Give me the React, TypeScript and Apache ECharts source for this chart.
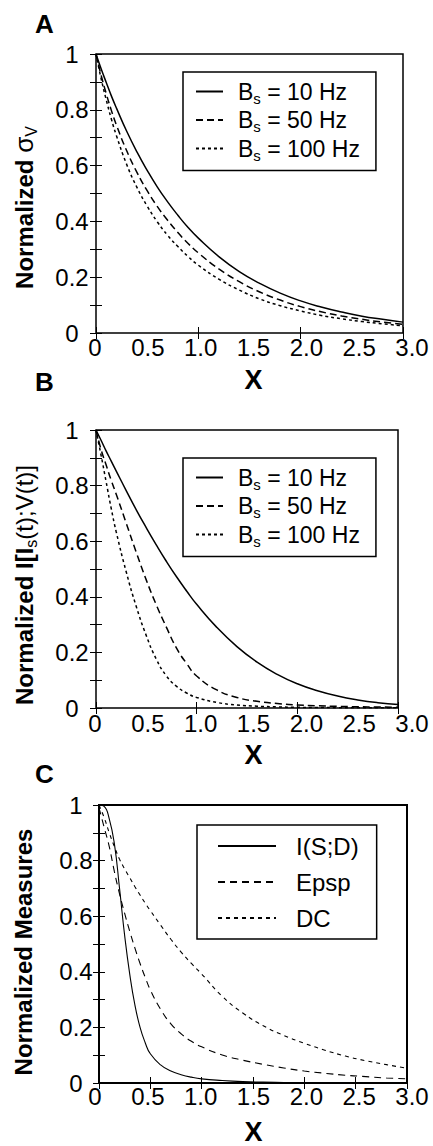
import React, { useEffect, useRef } from 'react';
import * as echarts from 'echarts';

// ---------- data ----------
const X_AB = [0, 0.05, 0.1, 0.15, 0.2, 0.3, 0.4, 0.5, 0.6, 0.7, 0.8, 0.9, 1.0, 1.2, 1.4, 1.6, 1.8, 2.0, 2.2, 2.4, 2.6, 2.8, 3.0];

const A_10 = [1, 0.947, 0.898, 0.85, 0.806, 0.723, 0.649, 0.583, 0.523, 0.47, 0.422, 0.378, 0.34, 0.274, 0.22, 0.178, 0.143, 0.115, 0.093, 0.075, 0.06, 0.049, 0.039];
const A_50 = [1, 0.924, 0.858, 0.798, 0.745, 0.653, 0.576, 0.51, 0.453, 0.404, 0.36, 0.321, 0.287, 0.23, 0.184, 0.147, 0.118, 0.0945, 0.076, 0.061, 0.049, 0.039, 0.031];
const A_100 = [1, 0.912, 0.836, 0.767, 0.707, 0.604, 0.522, 0.455, 0.398, 0.35, 0.31, 0.274, 0.243, 0.193, 0.154, 0.122, 0.098, 0.079, 0.063, 0.051, 0.041, 0.033, 0.026];

const B_10 = [1, 0.963, 0.925, 0.889, 0.853, 0.782, 0.713, 0.648, 0.586, 0.527, 0.472, 0.421, 0.373, 0.29, 0.221, 0.165, 0.121, 0.087, 0.062, 0.043, 0.029, 0.019, 0.0127];
const B_50 = [1, 0.93, 0.875, 0.82, 0.77, 0.665, 0.56, 0.46, 0.37, 0.29, 0.215, 0.16, 0.115, 0.065, 0.038, 0.024, 0.016, 0.011, 0.008, 0.006, 0.0045, 0.0035, 0.003];
const B_100 = [1, 0.91, 0.815, 0.72, 0.635, 0.49, 0.365, 0.26, 0.175, 0.115, 0.078, 0.054, 0.038, 0.02, 0.011, 0.0065, 0.004, 0.0025, 0.0017, 0.0012, 0.0009, 0.0007, 0.0005];

const X_C = [0, 0.05, 0.1, 0.15, 0.2, 0.25, 0.3, 0.35, 0.4, 0.45, 0.5, 0.6, 0.7, 0.8, 0.9, 1.0, 1.2, 1.4, 1.6, 1.8, 2.0, 2.2, 2.4, 2.6, 2.8, 3.0];
const C_ISD = [1, 0.995, 0.95, 0.86, 0.7, 0.53, 0.39, 0.28, 0.2, 0.145, 0.105, 0.065, 0.043, 0.03, 0.021, 0.015, 0.009, 0.005, 0.003, 0.002, 0.001, 0.001, 0.0005, 0.0005, 0.0003, 0.0003];
const C_EPSP = [0.99, 0.92, 0.85, 0.76, 0.68, 0.61, 0.545, 0.485, 0.43, 0.38, 0.335, 0.265, 0.213, 0.177, 0.15, 0.13, 0.101, 0.082, 0.067, 0.054, 0.043, 0.035, 0.028, 0.023, 0.018, 0.015];
const C_DC = [1, 0.955, 0.9, 0.85, 0.805, 0.77, 0.738, 0.706, 0.676, 0.647, 0.62, 0.568, 0.517, 0.471, 0.43, 0.392, 0.312, 0.252, 0.206, 0.171, 0.143, 0.118, 0.097, 0.08, 0.066, 0.053];

const NAMES_AB = ['Bs = 10 Hz', 'Bs = 50 Hz', 'Bs = 100 Hz'];
const NAMES_C = ['I(S;D)', 'Epsp', 'DC'];
const X_TICK_LABELS = [0, 0.5, 1.0, 1.5, 2.0, 2.5, 3.0];
const PANEL_LETTERS = ['A', 'B', 'C'];

const FONT = 'Liberation Sans, Arial, Helvetica, sans-serif';

const zip = (xs: number[], ys: number[]) => xs.map((x, i) => [x, ys[i]]);

export default function App() {
  const ref = useRef<HTMLDivElement>(null);

  useEffect(() => {
    document.body.style.margin = '0';
    const chart = echarts.init(ref.current!, null, { renderer: 'svg' });

    const panels = [
      {
        grid: { left: 96, top: 54, width: 307, height: 279 },
        labelGrid: { left: 95, width: 317 },
        xTick: 1, border: 1.5, lw: 1.5,
        dashes: ['solid', [7, 4], [3, 3]],
        xs: X_AB, ys: [A_10, A_50, A_100], names: NAMES_AB,
        yName: '{b|Normalized }{g|σ}{s|V}', yGap: 72, yPad: [0, 28, 0, 0],
        xGap: 47, yLabelMargin: 24, xLabelMargin: 2,
        legend: { left: 183, top: 72 },
      },
      {
        grid: { left: 96, top: 430, width: 302, height: 278 },
        labelGrid: { left: 95, width: 317 },
        xTick: 1, border: 1.5, lw: 1.5,
        dashes: ['solid', [7, 4], [3, 3]],
        xs: X_AB, ys: [B_10, B_50, B_100], names: NAMES_AB,
        yName: '{b|Normalized I[I}{s|s}{r|(t);V(t)]}', yGap: 72, yPad: [0, 32, 0, 0],
        xGap: 47, yLabelMargin: 24, xLabelMargin: 3,
        legend: { left: 183, top: 458 },
      },
      {
        grid: { left: 99, top: 805, width: 308, height: 278 },
        labelGrid: { left: 95, width: 317 },
        xTick: 0.5, border: 2, lw: 1.1,
        dashes: ['solid', [7, 5], [4, 4]],
        xs: X_C, ys: [C_ISD, C_EPSP, C_DC], names: NAMES_C,
        yName: '{b|Normalized Measures}', yGap: 76, yPad: [0, 16, 0, 0],
        xGap: 50, yLabelMargin: 23, xLabelMargin: 3,
        legend: { left: 197, top: 825 },
      },
    ];

    const grid: any[] = [];
    const xAxis: any[] = [];
    const yAxis: any[] = [];
    const series: any[] = [];
    const legend: any[] = [];
    const title: any[] = [];

    const yLabelFmt = (v: number) => {
      const r = Math.round(v * 10);
      if (r % 2 !== 0) return '';
      if (r === 0) return '0';
      if (r === 10) return '1';
      return (r / 10).toFixed(1);
    };

    panels.forEach((p, i) => {
      const g = grid.length;
      grid.push({ ...p.grid, show: true, borderColor: '#000', borderWidth: p.border, backgroundColor: '#fff', containLabel: false });
      grid.push({ left: p.labelGrid.left, width: p.labelGrid.width, top: p.grid.top, height: p.grid.height, show: false });

      const xi = xAxis.length;
      const tickX = { show: true, inside: true, length: 6, lineStyle: { color: '#000', width: 1 } };
      xAxis.push({
        type: 'value', gridIndex: g, min: 0, max: 3, interval: p.xTick, position: 'bottom',
        axisLine: { show: false }, axisTick: tickX, axisLabel: { show: false }, splitLine: { show: false },
      });
      xAxis.push({
        type: 'value', gridIndex: g, min: 0, max: 3, interval: p.xTick, position: 'top',
        axisLine: { show: false }, axisTick: tickX, axisLabel: { show: false }, splitLine: { show: false },
      });
      xAxis.push({
        type: 'value', gridIndex: g + 1, min: 0, max: 3, interval: 0.5, position: 'bottom',
        axisLine: { show: false }, axisTick: { show: false }, splitLine: { show: false },
        axisLabel: {
          show: true, color: '#000', fontSize: 24, fontFamily: FONT, margin: p.xLabelMargin,
          formatter: (v: number) => (v === 0 ? '0' : v.toFixed(1)),
          customValues: X_TICK_LABELS,
        },
        name: 'X', nameLocation: 'middle', nameGap: p.xGap,
        nameTextStyle: { color: '#000', fontSize: 27, fontWeight: 'bold', fontFamily: FONT, verticalAlign: 'middle', align: 'center' },
      });

      const yi = yAxis.length;
      const tickY = { show: true, inside: true, length: 6, lineStyle: { color: '#000', width: 1 } };
      yAxis.push({
        type: 'value', gridIndex: g, min: 0, max: 1, interval: 0.1, position: 'left',
        axisLine: { show: false }, axisTick: tickY, splitLine: { show: false },
        axisLabel: { color: '#000', fontSize: 24, fontFamily: FONT, margin: p.yLabelMargin, align: 'center', formatter: yLabelFmt },
        name: p.yName, nameLocation: 'middle', nameGap: p.yGap,
        nameTextStyle: {
          color: '#000', fontFamily: FONT, align: 'center', verticalAlign: 'middle', padding: p.yPad,
          rich: {
            b: { fontSize: 24, fontWeight: 'bold', fontFamily: FONT, color: '#000', lineHeight: 30 },
            g: { fontSize: 26, fontFamily: FONT, color: '#000', lineHeight: 30 },
            r: { fontSize: 24, fontFamily: FONT, color: '#000', lineHeight: 30 },
            s: { fontSize: 16, fontFamily: FONT, color: '#000', verticalAlign: 'bottom' },
          },
        },
      });
      yAxis.push({
        type: 'value', gridIndex: g, min: 0, max: 1, interval: 0.1, position: 'right',
        axisLine: { show: false }, axisTick: tickY, splitLine: { show: false }, axisLabel: { show: false },
      });
      yAxis.push({ type: 'value', gridIndex: g + 1, show: false, min: 0, max: 1 });

      p.ys.forEach((ys, k) => {
        series.push({
          type: 'line', name: p.names[k], xAxisIndex: xi, yAxisIndex: yi,
          data: zip(p.xs, ys), symbol: 'none', showSymbol: false, smooth: 0.5,
          lineStyle: { color: '#000', width: p.lw, type: p.dashes[k] },
          itemStyle: { color: '#000' }, silent: true, clip: true,
        });
      });

      const isC = i === 2;
      legend.push({
        orient: 'vertical', left: p.legend.left, top: p.legend.top,
        data: p.names, selectedMode: false,
        backgroundColor: '#fff', borderColor: '#000', borderWidth: 1.5, borderRadius: 0,
        padding: isC ? [9, 18, 9, 20] : [8, 16, 8, 12],
        itemGap: isC ? 12 : 3, itemWidth: isC ? 58 : 27, itemHeight: 14,
        itemStyle: { color: 'rgba(0,0,0,0)', borderColor: 'rgba(0,0,0,0)', borderWidth: 0, opacity: 0 },
        formatter: isC
          ? (n: string) => `{c|${n}}`
          : (n: string) => `{b|B}{s|s}{n|${n.slice(2)}}`,
        textStyle: {
          color: '#000', fontFamily: FONT,
          rich: {
            c: { fontSize: 24, fontFamily: FONT, color: '#000', padding: [0, 0, 0, 15], lineHeight: 26 },
            b: { fontSize: 23, fontFamily: FONT, color: '#000', padding: [0, 0, 0, 10], lineHeight: 28 },
            n: { fontSize: 23, fontFamily: FONT, color: '#000', lineHeight: 28 },
            s: { fontSize: 15, fontFamily: FONT, color: '#000', verticalAlign: 'bottom' },
          },
        },
      });

      title.push({
        text: PANEL_LETTERS[i], left: 35, top: [11, 369, 761][i], padding: 0,
        textStyle: { fontSize: 26, fontWeight: 'bold', fontFamily: FONT, color: '#000' },
      });
    });

    chart.setOption({
      animation: false,
      backgroundColor: '#fff',
      title, grid, xAxis, yAxis, series, legend,
    });

    return () => chart.dispose();
  }, []);

  return <div ref={ref} style={{ width: 433, height: 1146 }} />;
}
